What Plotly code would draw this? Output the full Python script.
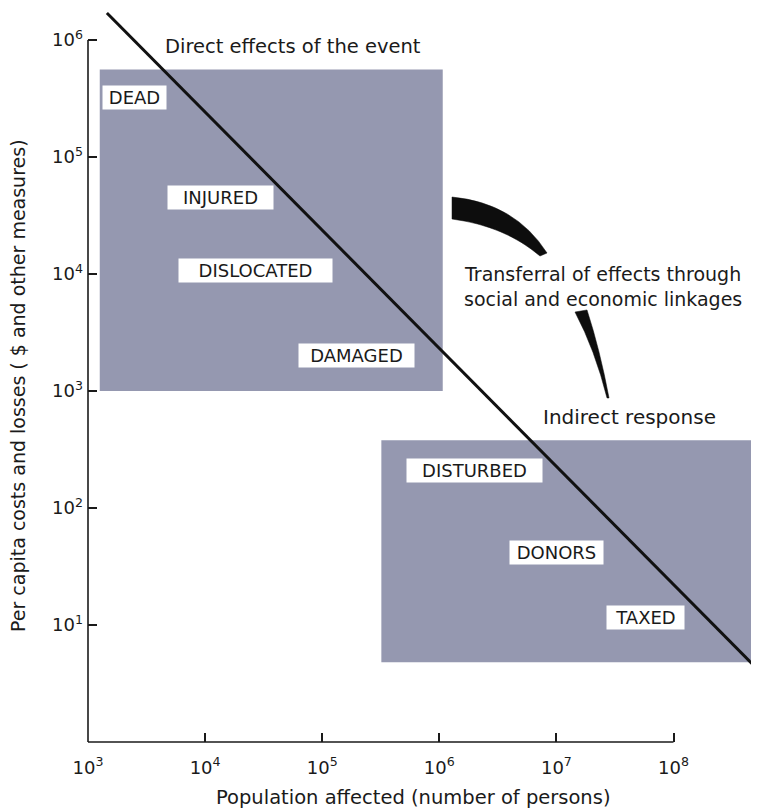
import numpy as np
import plotly.graph_objects as go

# ---------------- data ----------------
x_tick_vals = [1e3, 1e4, 1e5, 1e6, 1e7, 1e8]
x_tick_text = ["10<sup>3</sup>", "10<sup>4</sup>", "10<sup>5</sup>", "10<sup>6</sup>",
               "10<sup>7</sup>", "10<sup>8</sup>"]
y_tick_vals = [1e1, 1e2, 1e3, 1e4, 1e5, 1e6]
y_tick_text = ["10<sup>1</sup>", "10<sup>2</sup>", "10<sup>3</sup>", "10<sup>4</sup>",
               "10<sup>5</sup>", "10<sup>6</sup>"]

# diagonal: per-capita loss vs population affected
line_population = [1.45e3, 4.97e8]
line_cost = [1.7e6, 4.4]

# regions: [pop_min, pop_max], [cost_min, cost_max]
direct_population = [1.26e3, 1.07e6]
direct_cost = [1.0e3, 5.6e5]
indirect_population = [3.2e5, 6.0e8]
indirect_cost = [4.8, 3.8e2]

# category labels
labels = ["DEAD", "INJURED", "DISLOCATED", "DAMAGED", "DISTURBED", "DONORS", "TAXED"]
label_population = [2.5e3, 1.35e4, 2.7e4, 1.95e5, 2.0e6, 1.0e7, 5.8e7]
label_cost = [3.2e5, 4.5e4, 1.07e4, 2.0e3, 2.1e2, 42, 11.7]
label_width = [63, 105, 153, 115, 135, 93, 77]

# ---------------- layout constants ----------------
OFF = 8                      # page body margin
W, H = 759 - OFF, 812 - OFF
L = 88 - OFF                 # left axis at reference x = 88
PLOT_BOTTOM = 742 - OFF      # bottom axis at reference y = 742
B = H - PLOT_BOTTOM
PW, PH = W - L, PLOT_BOTTOM
PX_DEC_X, PX_DEC_Y = 117.1, 117.0
x_range = [3, 3 + PW / PX_DEC_X]
y_range = [0, PH / PX_DEC_Y]
FONT = "DejaVu Sans"
INK = "#1a1a1a"
FILL = "#9598b0"


def xp(px):
    """reference pixel x -> paper"""
    return (px - 88) / PW


def yp(py):
    """reference pixel y -> paper"""
    return (742 - py) / PH


def pp(px, py):
    return f"{xp(px):.4f},{yp(py):.4f}"


fig = go.Figure()

fig.add_trace(go.Scatter(
    x=line_population, y=line_cost, mode="lines",
    line=dict(color="#111111", width=3), hoverinfo="skip", showlegend=False,
))

shapes = []
for pops, costs in [(direct_population, direct_cost), (indirect_population, indirect_cost)]:
    shapes.append(dict(type="rect", xref="x", yref="y", x0=pops[0], x1=pops[1],
                       y0=costs[0], y1=costs[1], fillcolor=FILL,
                       line=dict(width=0), layer="below"))

# axis lines (only spanning labelled decades)
shapes.append(dict(type="line", xref="paper", yref="paper", x0=0, x1=(5 * PX_DEC_X) / PW,
                   y0=0, y1=0, line=dict(color=INK, width=1.6)))
shapes.append(dict(type="line", xref="paper", yref="paper", x0=0, x1=0,
                   y0=0, y1=(6 * PX_DEC_Y) / PH, line=dict(color=INK, width=1.6)))

# curved wedge arrows
wedge1 = (f"M {pp(452,197)} Q {pp(515,203)} {pp(547,253)} L {pp(540,256)} "
          f"Q {pp(505,226)} {pp(452,219)} Z")
wedge2 = (f"M {pp(575,312)} Q {pp(595,350)} {pp(607,398)} L {pp(609,398)} "
          f"Q {pp(600,350)} {pp(587,310)} Z")
for w in (wedge1, wedge2):
    shapes.append(dict(type="path", xref="paper", yref="paper", path=w,
                       fillcolor="#0d0d0d", line=dict(color="#0d0d0d", width=0.5)))

annotations = []
for name, p, c, w in zip(labels, label_population, label_cost, label_width):
    annotations.append(dict(
        x=np.log10(p), y=np.log10(c), xref="x", yref="y", text=name, showarrow=False,
        font=dict(family=FONT, size=18, color=INK), bgcolor="white",
        width=w - 2, borderpad=1, align="center",
    ))

annotations += [
    dict(x=xp(163), y=yp(47), xref="paper", yref="paper", xanchor="left", yanchor="middle",
         text="Direct effects of the event", showarrow=False,
         font=dict(family=FONT, size=19.5, color=INK)),
    dict(x=xp(603), y=yp(286), xref="paper", yref="paper", xanchor="center", yanchor="middle",
         text="Transferral of effects through<br>social and economic linkages", showarrow=False,
         align="center", font=dict(family=FONT, size=19, color=INK)),
    dict(x=xp(629), y=yp(417), xref="paper", yref="paper", xanchor="center", yanchor="middle",
         text="Indirect response", showarrow=False, font=dict(family=FONT, size=20, color=INK)),
    dict(x=xp(413), y=yp(797), xref="paper", yref="paper", xanchor="center", yanchor="middle",
         text="Population affected (number of persons)", showarrow=False,
         font=dict(family=FONT, size=19.5, color=INK)),
    dict(x=xp(18), y=yp(386), xref="paper", yref="paper", xanchor="center", yanchor="middle",
         text="Per capita costs and losses ( $ and other measures)", showarrow=False,
         textangle=-90, font=dict(family=FONT, size=19, color=INK)),
]

fig.update_layout(
    width=W, height=H,
    margin=dict(l=L, r=0, t=0, b=B),
    paper_bgcolor="white", plot_bgcolor="white",
    showlegend=False,
    shapes=shapes, annotations=annotations,
    xaxis=dict(type="log", range=x_range, showgrid=False, zeroline=False, showline=False,
               tickvals=x_tick_vals, ticktext=x_tick_text, ticks="inside", ticklen=9,
               tickwidth=1.6, tickcolor=INK, ticklabelstandoff=13,
               tickfont=dict(family=FONT, size=18, color=INK)),
    yaxis=dict(type="log", range=y_range, showgrid=False, zeroline=False, showline=False,
               tickvals=y_tick_vals, ticktext=y_tick_text, ticks="inside", ticklen=9,
               tickwidth=1.6, tickcolor=INK, ticklabelstandoff=4,
               tickfont=dict(family=FONT, size=18, color=INK)),
)

fig.write_html("out.html")
